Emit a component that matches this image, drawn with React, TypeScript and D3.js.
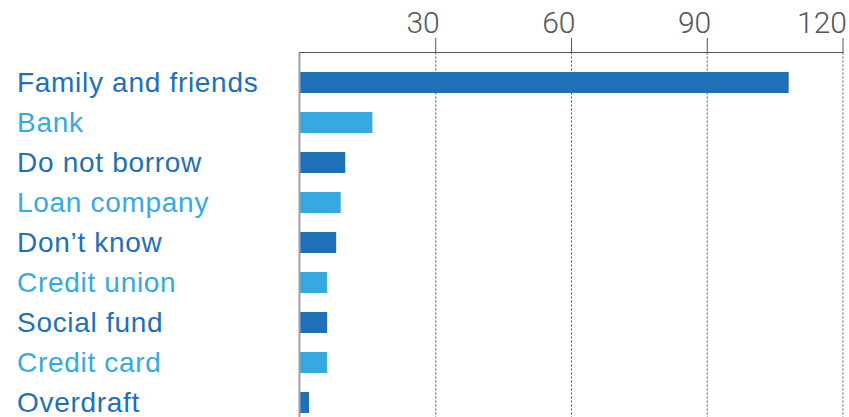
import React from "react";
import * as d3 from "d3";

const categories = [
  "Family and friends",
  "Bank",
  "Do not borrow",
  "Loan company",
  "Don’t know",
  "Credit union",
  "Social fund",
  "Credit card",
  "Overdraft",
];
const values = [108, 16, 10, 9, 8, 6, 6, 6, 2];
const tickValues = [30, 60, 90, 120];

const DARK = "#1e70b7";
const LIGHT = "#36a9e1";

export default function App() {
  const W = 849;
  const H = 417;
  const x = d3.scaleLinear().domain([0, 120]).range([300, 843]);
  const y = d3
    .scaleBand<string>()
    .domain(categories)
    .range([62.5, 422.5])
    .paddingInner(0.475)
    .paddingOuter(0.2375);
  const axisY = 52.5;

  return (
    <div style={{ position: "absolute", left: 0, top: 0 }}>
      <svg width={W} height={H} style={{ display: "block" }}>
        <rect width={W} height={H} fill="#fff" />
        {tickValues.map((t) => (
          <line
            key={"g" + t}
            x1={x(t)}
            x2={x(t)}
            y1={axisY}
            y2={H}
            stroke="#555"
            strokeWidth={1}
            strokeDasharray="2,2"
          />
        ))}
        {categories.map((c, i) => (
          <rect
            key={c}
            x={x(0)}
            y={y(c)}
            width={x(values[i]) - x(0)}
            height={y.bandwidth()}
            fill={i % 2 === 0 ? DARK : LIGHT}
          />
        ))}
        <line x1={299.5} x2={299.5} y1={axisY} y2={H} stroke="#a0a0a0" strokeWidth={2} />
        <line x1={299} x2={x(120) + 0.5} y1={axisY} y2={axisY} stroke="#555" strokeWidth={1} />
        {tickValues.map((t) => (
          <g key={"t" + t}>
            <line x1={x(t)} x2={x(t)} y1={38} y2={axisY} stroke="#555" strokeWidth={1} />
            <text
              x={x(t) + 4}
              y={33}
              textAnchor="end"
              fontFamily="Roboto, 'Liberation Sans', sans-serif"
              fontWeight={300}
              fontSize={30}
              fill="#555"
            >
              {t}
            </text>
          </g>
        ))}
        {categories.map((c, i) => (
          <text
            key={"l" + c}
            x={17}
            y={(y(c) as number) + y.bandwidth() / 2 + 9}
            fontFamily="'Liberation Sans', Arial, sans-serif"
            fontSize={28}
            letterSpacing={0.7}
            fill={i % 2 === 0 ? DARK : LIGHT}
          >
            {c}
          </text>
        ))}
      </svg>
    </div>
  );
}
